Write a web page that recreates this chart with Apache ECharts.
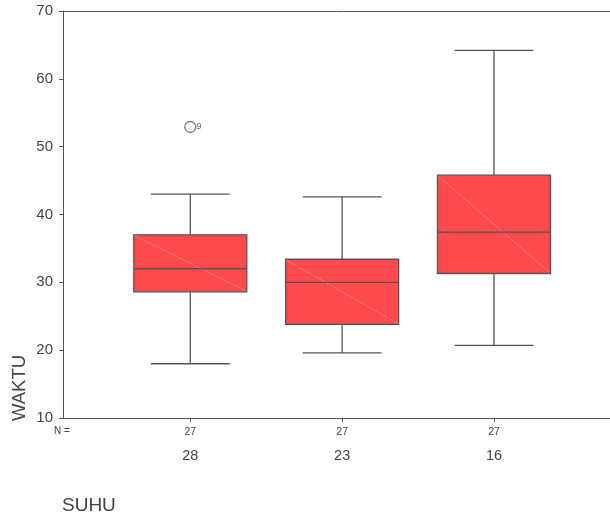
<!DOCTYPE html>
<html>
<head>
<meta charset="utf-8">
<title>WAKTU menurut SUHU</title>
<script src="https://cdn.jsdelivr.net/npm/echarts@6/dist/echarts.min.js"></script>
<style>
  html, body { margin: 0; padding: 0; background: #fff; }
  #chart { width: 610px; height: 518px; }
</style>
</head>
<body>
<div id="chart"></div>
<script>
// SUHU groups along the x axis
const categories = ['28', '23', '16'];
// number of cases in each group (N =)
const counts = [27, 27, 27];
// box statistics per group: [lower whisker, Q1, median, Q3, upper whisker]
const boxStats = [
  [18.0, 28.6, 32.0, 37.0, 43.0],
  [19.6, 23.8, 30.0, 33.4, 42.6],
  [20.7, 31.3, 37.4, 45.8, 64.2]
];
// outliers: [group index, value, case label]
const outliers = [
  [0, 52.9, '9']
];
// WAKTU axis range
const yMin = 10, yMax = 70, yStep = 10;

const axisColor = '#555';
const textColor = '#444';
const boxFill = '#ff4a4d';

const boxData = boxStats.map((s, i) => [i + 1].concat(s));
const outlierData = outliers.map(o => ({ value: [o[0] + 1, o[1]], name: o[2] }));

const xMin = 0.1617, xMax = 3.764;

const chart = echarts.init(document.getElementById('chart'), null, { renderer: 'canvas' });

chart.setOption({
  animation: false,
  backgroundColor: '#fff',
  textStyle: { fontFamily: 'Liberation Sans, Arial, sans-serif' },
  grid: { left: 63, top: 11, right: 0, bottom: 100, show: false },
  xAxis: [
    {
      type: 'value',
      min: xMin,
      max: xMax,
      splitLine: { show: false },
      axisLine: { show: true, lineStyle: { color: axisColor, width: 1 } },
      axisTick: {
        show: true, length: 4, customValues: [1, 2, 3],
        lineStyle: { color: axisColor }
      },
      axisLabel: {
        show: true,
        customValues: [1, 2, 3],
        margin: 6,
        formatter: v => {
          const i = Math.round(v) - 1;
          return '{n|' + counts[i] + '}\n{c|' + categories[i] + '}';
        },
        rich: {
          n: { fontSize: 10.5, lineHeight: 16, color: textColor, fontFamily: 'Liberation Sans' },
          c: { fontSize: 14.5, lineHeight: 32, color: textColor, fontFamily: 'Liberation Sans' }
        }
      }
    },
    {
      // top frame line
      type: 'value',
      position: 'top',
      min: xMin,
      max: xMax,
      splitLine: { show: false },
      axisLine: { show: true, lineStyle: { color: axisColor, width: 1 } },
      axisTick: { show: false },
      axisLabel: { show: false }
    }
  ],
  yAxis: {
    type: 'value',
    min: yMin,
    max: yMax,
    interval: yStep,
    splitLine: { show: false },
    axisLine: { show: true, lineStyle: { color: axisColor, width: 1 } },
    axisTick: { show: true, length: 4, lineStyle: { color: axisColor } },
    axisLabel: { fontSize: 15, color: textColor, margin: 10, fontFamily: 'Liberation Sans' }
  },
  graphic: [
    {
      type: 'text', left: 54, top: 426,
      style: { text: 'N =', fontSize: 10, fill: textColor, fontFamily: 'Liberation Sans' }
    },
    {
      type: 'text', x: 20, y: 388, rotation: Math.PI / 2,
      style: {
        text: 'WAKTU', fontSize: 18.5, fill: textColor, fontFamily: 'Liberation Sans',
        align: 'center', verticalAlign: 'middle'
      }
    },
    {
      type: 'text', left: 62, top: 496,
      style: { text: 'SUHU', fontSize: 19, fill: textColor, fontFamily: 'Liberation Sans' }
    }
  ],
  series: [
    {
      type: 'custom',
      data: boxData,
      encode: { x: 0, y: [1, 2, 3, 4, 5] },
      renderItem: (params, api) => {
        const x = api.value(0);
        const unit = api.size([1, 0])[0];
        const boxW = unit * 0.744;
        const capW = unit * 0.52;
        const pLo = api.coord([x, api.value(1)]);
        const pQ1 = api.coord([x, api.value(2)]);
        const pMed = api.coord([x, api.value(3)]);
        const pQ3 = api.coord([x, api.value(4)]);
        const pHi = api.coord([x, api.value(5)]);
        const cx = pMed[0];
        const line = { stroke: axisColor, lineWidth: 1.3 };
        return {
          type: 'group',
          children: [
            { type: 'line', shape: { x1: cx, y1: pHi[1], x2: cx, y2: pQ3[1] }, style: line },
            { type: 'line', shape: { x1: cx, y1: pQ1[1], x2: cx, y2: pLo[1] }, style: line },
            { type: 'line', shape: { x1: cx - capW / 2, y1: pHi[1], x2: cx + capW / 2, y2: pHi[1] }, style: line },
            { type: 'line', shape: { x1: cx - capW / 2, y1: pLo[1], x2: cx + capW / 2, y2: pLo[1] }, style: line },
            {
              type: 'rect',
              shape: { x: cx - boxW / 2, y: pQ3[1], width: boxW, height: pQ1[1] - pQ3[1] },
              style: { fill: boxFill, stroke: axisColor, lineWidth: 1.3 }
            },
            {
              type: 'line',
              shape: { x1: cx - boxW / 2 + 1, y1: pQ3[1] + 1, x2: cx + boxW / 2 - 1, y2: pQ1[1] - 1 },
              style: { stroke: 'rgba(255,255,255,0.3)', lineWidth: 0.8 }
            },
            { type: 'line', shape: { x1: cx - boxW / 2, y1: pMed[1], x2: cx + boxW / 2, y2: pMed[1] }, style: line }
          ]
        };
      },
      z: 2
    },
    {
      type: 'scatter',
      data: outlierData,
      symbol: 'circle',
      symbolSize: 11,
      itemStyle: { color: 'transparent', borderColor: axisColor, borderWidth: 1.3 },
      label: {
        show: true, position: 'right', distance: 0,
        formatter: p => p.name,
        fontSize: 9, color: textColor, fontFamily: 'Liberation Sans'
      },
      z: 3
    }
  ]
});
</script>
</body>
</html>
